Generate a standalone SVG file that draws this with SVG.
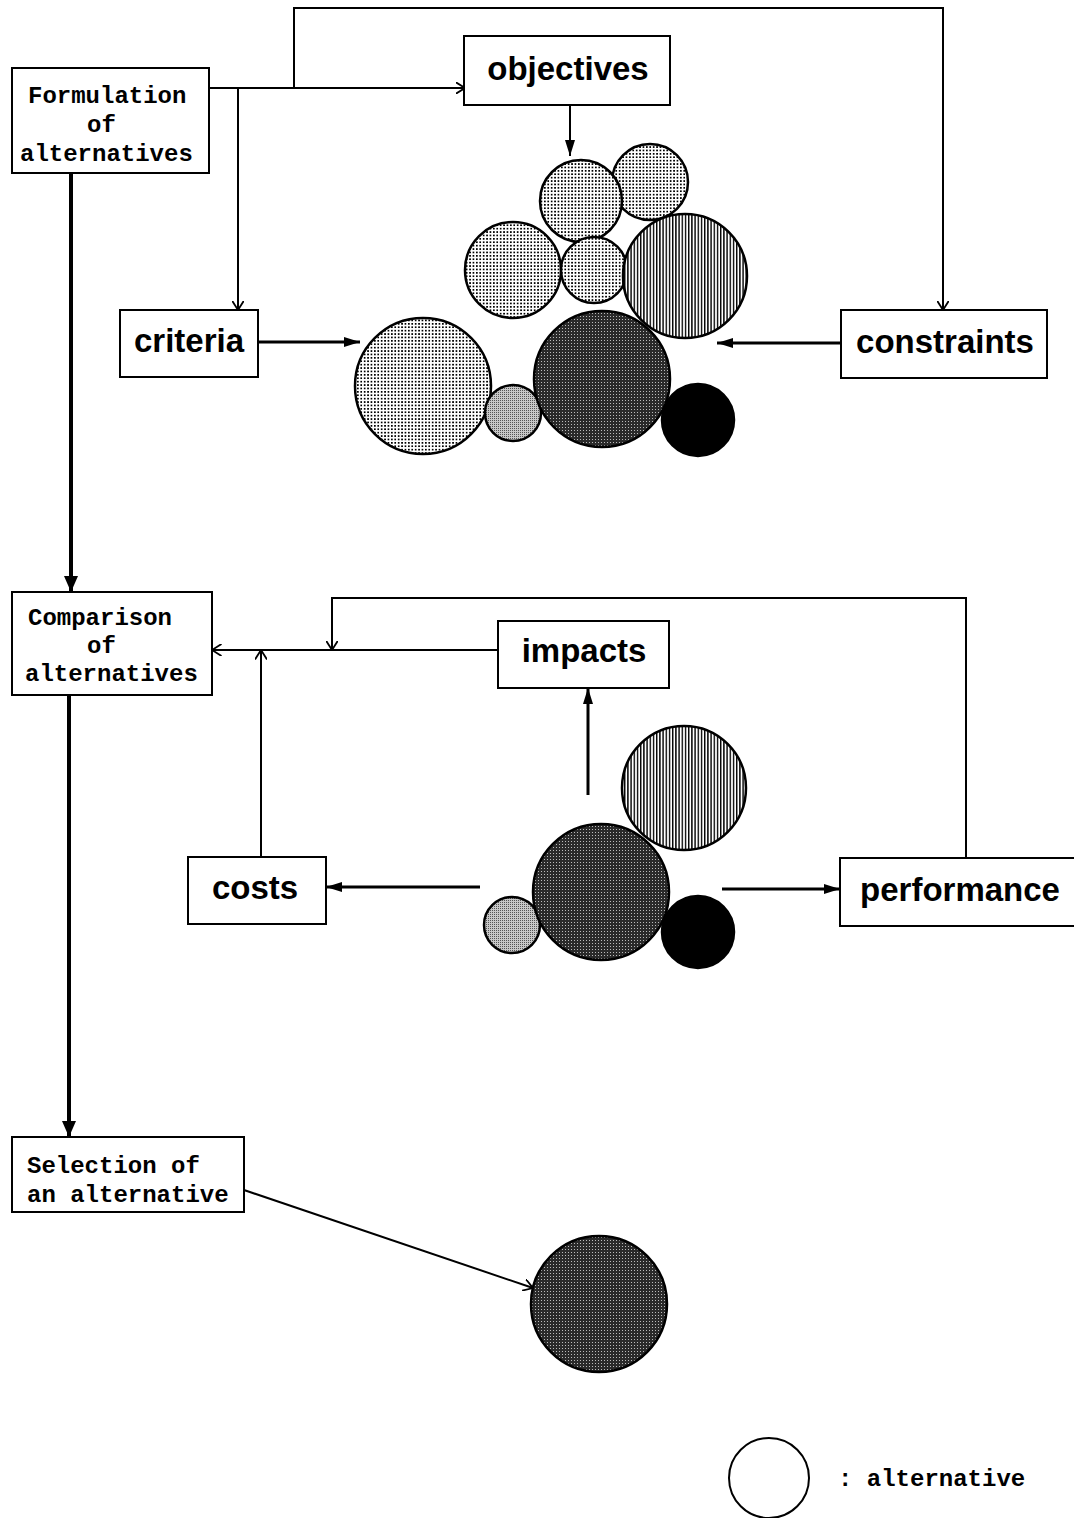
<svg xmlns="http://www.w3.org/2000/svg" width="1074" height="1518" viewBox="0 0 1074 1518">
<style>
.box{fill:#fff;stroke:#000;stroke-width:2}
.mono{font-family:"Liberation Mono","DejaVu Sans Mono",monospace;font-weight:bold;font-size:24px;fill:#000}
.sans{font-family:"Liberation Sans",Arial,sans-serif;font-weight:bold;font-size:33px;fill:#000;text-anchor:middle}
.thin{fill:none;stroke:#000;stroke-width:2}
.mid{fill:none;stroke:#000;stroke-width:3}
.thick{fill:none;stroke:#000;stroke-width:4}
.circ{stroke:#000;stroke-width:2.5}
</style>
<defs>
<marker id="open" viewBox="0 0 10 12" refX="9.5" refY="6" markerWidth="10" markerHeight="12" markerUnits="userSpaceOnUse" orient="auto">
<path d="M0,0 L9.5,6 L0,12" fill="none" stroke="#000" stroke-width="1.8"/>
</marker>
<marker id="bigHead" viewBox="0 0 16 14" refX="16" refY="7" markerWidth="16" markerHeight="14" markerUnits="userSpaceOnUse" orient="auto">
<path d="M0,0 L16,7 L0,14 Z" fill="#000"/>
</marker>
<marker id="smallHead" viewBox="0 0 16 10" refX="16" refY="5" markerWidth="16" markerHeight="10" markerUnits="userSpaceOnUse" orient="auto">
<path d="M0,0 L16,5 L0,10 Z" fill="#000"/>
</marker>
<pattern id="dots" width="3.4" height="3.4" patternUnits="userSpaceOnUse">
<rect width="3.4" height="3.4" fill="#fff"/>
<rect width="1.7" height="1.7" fill="#000"/>
</pattern>
<pattern id="stipple" width="2" height="2" patternUnits="userSpaceOnUse">
<rect width="2" height="2" fill="#c8c8c8"/>
<rect width="1" height="1" fill="#555"/>
</pattern>
<pattern id="dark" width="3" height="3" patternUnits="userSpaceOnUse">
<rect width="3" height="3" fill="#2a2a2a"/>
<rect x="1" y="1" width="1" height="1" fill="#bbb"/>
</pattern>
<pattern id="stripes" width="3.2" height="4" patternUnits="userSpaceOnUse">
<rect width="3.2" height="4" fill="#fff"/>
<rect width="1.4" height="4" fill="#000"/>
</pattern>
</defs>

<g id="connectors">
<path class="thin" d="M209,88 H465" marker-end="url(#open)"/>
<path class="thin" d="M294,88 V8 H943 V310" marker-end="url(#open)"/>
<path class="thin" d="M238,88 V310" marker-end="url(#open)"/>
<path class="thin" d="M570,105 V156" marker-end="url(#smallHead)"/>
<path class="mid" d="M258,342 H360" marker-end="url(#smallHead)"/>
<path class="mid" d="M841,343 H717" marker-end="url(#smallHead)"/>
<path class="thick" d="M71,173 V592" marker-end="url(#bigHead)"/>
<path class="thin" d="M498,650 H212" marker-end="url(#open)"/>
<path class="thin" d="M261,857 V650" marker-end="url(#open)"/>
<path class="thin" d="M966,858 V598 H332 V650" marker-end="url(#open)"/>
<path class="mid" d="M588,795 V688" marker-end="url(#smallHead)"/>
<path class="mid" d="M480,887 H326" marker-end="url(#smallHead)"/>
<path class="mid" d="M722,889 H840" marker-end="url(#smallHead)"/>
<path class="thick" d="M69,695 V1137" marker-end="url(#bigHead)"/>
<path class="thin" d="M244,1190 L533,1288" marker-end="url(#open)"/>
</g>

<g id="formulation">
<rect class="box" x="12" y="68" width="197" height="105"/>
<text class="mono" x="28" y="103">Formulation</text>
<text class="mono" x="87" y="132">of</text>
<text class="mono" x="20" y="161">alternatives</text>
</g>
<g id="objectives">
<rect class="box" x="464" y="36" width="206" height="69"/>
<text class="sans" x="568" y="80">objectives</text>
</g>
<g id="criteria">
<rect class="box" x="120" y="310" width="138" height="67"/>
<text class="sans" x="189" y="352">criteria</text>
</g>
<g id="constraints">
<rect class="box" x="841" y="310" width="206" height="68"/>
<text class="sans" x="945" y="353">constraints</text>
</g>

<g id="alternatives-set-1">
<circle class="circ" cx="423" cy="386" r="68" fill="url(#dots)"/>
<circle class="circ" cx="513" cy="413" r="28" fill="url(#stipple)"/>
<circle class="circ" cx="513" cy="270" r="48" fill="url(#dots)"/>
<circle class="circ" cx="650" cy="182" r="38" fill="url(#dots)"/>
<circle class="circ" cx="581" cy="201" r="41" fill="url(#dots)"/>
<circle class="circ" cx="594" cy="270" r="33" fill="url(#dots)"/>
<circle class="circ" cx="685" cy="276" r="62" fill="url(#stripes)"/>
<circle class="circ" cx="602" cy="379" r="68" fill="url(#dark)"/>
<circle class="circ" cx="698" cy="420" r="36" fill="#000"/>
</g>

<g id="comparison">
<rect class="box" x="12" y="592" width="200" height="103"/>
<text class="mono" x="28" y="625">Comparison</text>
<text class="mono" x="87" y="653">of</text>
<text class="mono" x="25" y="681">alternatives</text>
</g>
<g id="impacts">
<rect class="box" x="498" y="621" width="171" height="67"/>
<text class="sans" x="584" y="662">impacts</text>
</g>
<g id="costs">
<rect class="box" x="188" y="857" width="138" height="67"/>
<text class="sans" x="255" y="899">costs</text>
</g>
<g id="performance">
<rect class="box" x="840" y="858" width="240" height="68"/>
<text class="sans" x="960" y="901">performance</text>
</g>

<g id="alternatives-set-2">
<circle class="circ" cx="684" cy="788" r="62" fill="url(#stripes)"/>
<circle class="circ" cx="512" cy="925" r="28" fill="url(#stipple)"/>
<circle class="circ" cx="601" cy="892" r="68" fill="url(#dark)"/>
<circle class="circ" cx="698" cy="932" r="36" fill="#000"/>
</g>

<g id="selection">
<rect class="box" x="12" y="1137" width="232" height="75"/>
<text class="mono" x="27" y="1173">Selection of</text>
<text class="mono" x="27" y="1202">an alternative</text>
</g>
<g id="selected-alternative">
<circle class="circ" cx="599" cy="1304" r="68" fill="url(#dark)"/>
</g>

<g id="legend">
<circle cx="769" cy="1478" r="40" fill="none" stroke="#000" stroke-width="2"/>
<text class="mono" x="838" y="1486">: alternative</text>
</g>
</svg>
